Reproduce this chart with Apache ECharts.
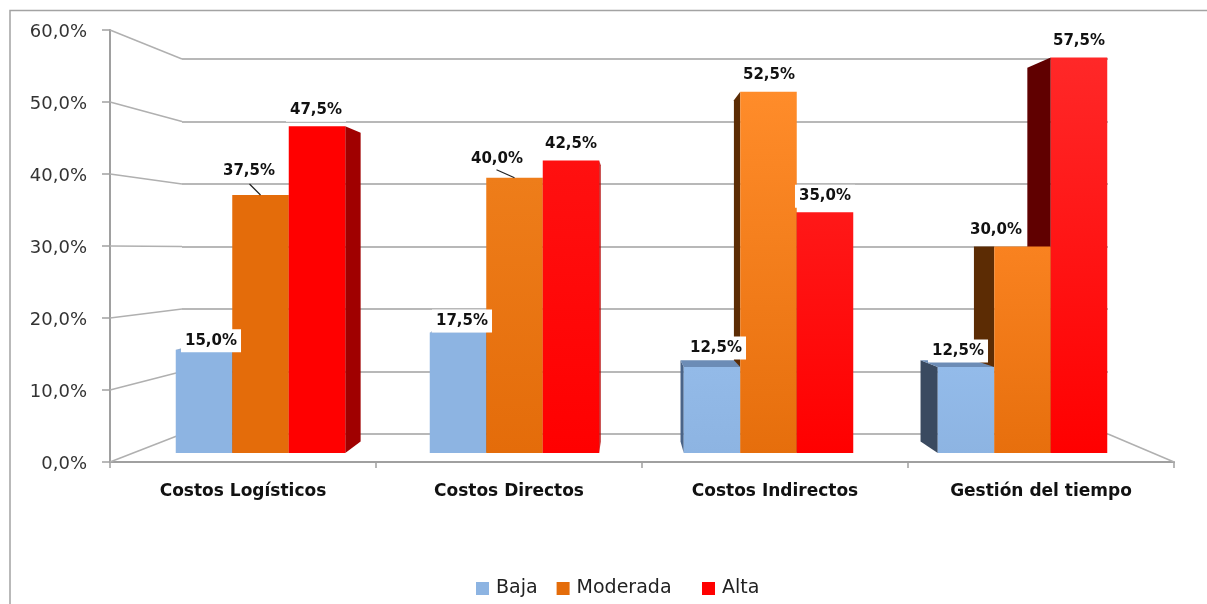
<!DOCTYPE html>
<html>
<head>
<meta charset="utf-8">
<script src="https://cdn.jsdelivr.net/npm/echarts@6/dist/echarts.min.js"></script>
<style>html,body{margin:0;padding:0;background:#fff}#c{width:1207px;height:604px}</style>
</head>
<body>
<div id="c"></div>
<script>
const categories = ['Costos Logísticos', 'Costos Directos', 'Costos Indirectos', 'Gestión del tiempo'];
const baja = [15.0, 17.5, 12.5, 12.5];
const moderada = [37.5, 40.0, 52.5, 30.0];
const alta = [47.5, 42.5, 35.0, 57.5];
const yTicks = [0, 10, 20, 30, 40, 50, 60];

// Styling and layout, kept apart from the values
const FONT = '"DejaVu Sans", sans-serif';
const BAR_W = 56.5;
const K = 0.055, VP = [625, 246];          // perspective of the bar depth
const GRID_FRONT = {left: 110, top: 30, width: 1064, height: 432};
const GRID_BACK = {left: 182, top: 59, width: 926, height: 375};
const GRID_BARS = {left: 133.5, top: 40.2, width: 1016, height: 412.8};
const AXIS = '#a0a0a0', WALL = '#b0b0b0', TICK_LEN = 8;

const seriesDefs = [
  {name: 'Baja', values: baja, legend: '#8DB4E2',
   tops: ['#8DB4E2', '#8DB4E2', '#93BAE8', '#93BBEA'], bottoms: ['#8DB4E2', '#8DB4E2', '#8DB4E2', '#8DB4E2'],
   sides: ['#3A4A60', '#3A4A60', '#4A6488', '#3A4A60'], lids: '#6C8CB6',
   offsets: [[7, 2.5], [4, 0], [4, -7.5], [-8, -4.5]]},
  {name: 'Moderada', values: moderada, legend: '#E46C0A',
   tops: ['#E46C0A', '#EE7D1A', '#FF8C2A', '#F98220'], bottoms: ['#E46C0A', '#E46C0A', '#E66E0C', '#E76F0D'],
   sides: ['#7A3A05', '#7A3A05', '#5C2C04', '#5C2C04'], lids: '#A85008',
   offsets: [[-11.5, -12.5], [-17.5, -7.5], [0.5, -5], [-26.5, -5]]},
  {name: 'Alta', values: alta, legend: '#FF0000',
   tops: ['#FF0000', '#FF1010', '#FF1818', '#FF2828'], bottoms: ['#FF0000', '#FF0000', '#FF0000', '#FF0000'],
   sides: ['#A00000', '#B00000', '#600000', '#600000'], lids: '#A00000',
   offsets: [[-1, -4.5], [0, -5], [0, -4.5], [0, -5]]}
];
const leaders = [
  {cat: 0, ser: 1, dx: -11, dy: -11},
  {cat: 1, ser: 1, dx: -18, dy: -8}
];
const pct = v => v.toFixed(1).replace('.', ',') + '%';

const chart = echarts.init(document.getElementById('c'));

function backOf(x, y) { return [x + K * (VP[0] - x), y + K * (VP[1] - y)]; }
function barEdges(api, cat, ser, v) {
  const p = api.coord([cat, v]), b = api.coord([cat, 0]);
  const left = p[0] + (ser - 1.5) * BAR_W;
  return {left: left, right: left + BAR_W, top: p[1], bot: b[1]};
}

// Depth faces: drawn back to front, behind the bars
const faceData = [];
[2, 1, 0].forEach(s => seriesDefs[s].values.forEach((v, c) => faceData.push([c, s, v])));

function renderFaces(params, api) {
  const c = api.value(0), s = api.value(1), v = api.value(2);
  const e = barEdges(api, c, s, v);
  const def = seriesDefs[s];
  const children = [];
  const poly = (pts, fill) => children.push({type: 'polygon', shape: {points: pts}, style: {fill: fill}, silent: true});
  const sideX = e.left > VP[0] ? e.left : (e.right < VP[0] ? e.right : null);
  if (sideX !== null) {
    poly([[sideX, e.top], backOf(sideX, e.top), backOf(sideX, e.bot), [sideX, e.bot]], def.sides[c]);
  }
  if (e.top > VP[1]) {
    poly([[e.left, e.top], [e.right, e.top], backOf(e.right, e.top), backOf(e.left, e.top)], def.lids);
  }
  return {type: 'group', children: children};
}

function renderWall(params, api) {
  const v = api.value(1);
  const y = api.coord([0, v])[1];
  const cs = params.coordSys;
  const by = chart.convertToPixel({yAxisIndex: 2}, v);
  const style = {stroke: WALL, lineWidth: 1.5, fill: 'none'};
  const tick = {stroke: AXIS, lineWidth: 1.5, fill: 'none'};
  const children = [
    {type: 'line', shape: {x1: cs.x, y1: y, x2: GRID_BACK.left, y2: by}, style: style, silent: true},
    {type: 'line', shape: {x1: cs.x - TICK_LEN, y1: y, x2: cs.x, y2: y}, style: tick, silent: true}
  ];
  if (v === 0) {
    children.push({type: 'line', shape: {x1: GRID_BACK.left + GRID_BACK.width, y1: by, x2: cs.x + cs.width, y2: y}, style: style, silent: true});
  }
  return {type: 'group', children: children};
}

function renderLeader(params, api) {
  const c = api.value(0), s = api.value(1), v = api.value(2);
  const e = barEdges(api, c, s, v);
  const cx = (e.left + e.right) / 2;
  const l = leaders[params.dataIndex];
  return {type: 'line', silent: true,
    shape: {x1: cx, y1: e.top, x2: cx + l.dx, y2: e.top + l.dy},
    style: {stroke: '#222', lineWidth: 1.2}};
}

const barSeries = seriesDefs.map(d => ({
  type: 'bar', name: d.name, xAxisIndex: 0, yAxisIndex: 0, z: 2,
  barWidth: BAR_W, barGap: 0,
  itemStyle: {color: d.legend},
  data: d.values.map((v, i) => ({
    value: v,
    itemStyle: {color: {type: 'linear', x: 0, y: 0, x2: 0, y2: 1,
      colorStops: [{offset: 0, color: d.tops[i]}, {offset: 1, color: d.bottoms[i]}]}},
    label: {offset: d.offsets[i]}
  })),
  label: {show: true, position: 'top', distance: 0,
    formatter: p => pct(p.value),
    fontFamily: FONT, fontSize: 15, fontWeight: 'bold', color: '#111',
    backgroundColor: '#fff', padding: [4, 4], lineHeight: 15}
}));

const legendBase = {
  top: 579, padding: 0, itemWidth: 13, itemHeight: 13, itemGap: 19,
  icon: 'rect', selectedMode: false,
  textStyle: {fontFamily: FONT, fontSize: 19, color: '#222', padding: [0, 0, 0, 2]}
};

chart.setOption({
  animation: false,
  backgroundColor: '#fff',
  graphic: [{type: 'rect', shape: {x: 10, y: 10.5, width: 1300, height: 700},
    style: {fill: 'none', stroke: '#a3a3a3', lineWidth: 1.5}, silent: true, z: -1}],
  legend: [
    Object.assign({}, legendBase, {left: 476, data: ['Baja', 'Moderada']}),
    Object.assign({}, legendBase, {left: 702, data: ['Alta']})
  ],
  grid: [GRID_BARS, GRID_FRONT, GRID_BACK],
  xAxis: [
    {type: 'category', gridIndex: 0, data: categories, show: false},
    {type: 'category', gridIndex: 1, data: categories,
     axisLine: {lineStyle: {color: AXIS, width: 2}},
     axisTick: {show: true, length: 6, alignWithLabel: false, lineStyle: {color: AXIS, width: 1.5}},
     axisLabel: {fontFamily: FONT, fontSize: 17, fontWeight: 'bold', color: '#111', margin: 21, interval: 0}},
    {type: 'category', gridIndex: 2, data: categories, show: false}
  ],
  yAxis: [
    {type: 'value', gridIndex: 0, min: 0, max: 60, interval: 10, show: false},
    {type: 'value', gridIndex: 1, min: 0, max: 60, interval: 10,
     axisLine: {show: true, lineStyle: {color: AXIS, width: 2}},
     axisTick: {show: false},
     splitLine: {show: false},
     axisLabel: {fontFamily: FONT, fontSize: 18, color: '#333', margin: 23, verticalAlign: 'top', lineHeight: 4, formatter: v => pct(v)}},
    {type: 'value', gridIndex: 2, min: 0, max: 60, interval: 10,
     axisLine: {show: false}, axisTick: {show: false}, axisLabel: {show: false},
     splitLine: {show: true, lineStyle: {color: '#b8b8b8', width: 1.8}}}
  ],
  series: [
    {type: 'custom', name: 'wall', xAxisIndex: 1, yAxisIndex: 1, z: 1, clip: false, silent: true,
     renderItem: renderWall, encode: {x: 0, y: 1}, data: yTicks.map(v => [0, v])},
    {type: 'custom', name: 'faces', xAxisIndex: 0, yAxisIndex: 0, z: 1.5, clip: false, silent: true,
     renderItem: renderFaces, encode: {x: 0, y: 2}, data: faceData},
    ...barSeries,
    {type: 'custom', name: 'leaders', xAxisIndex: 0, yAxisIndex: 0, z: 3, clip: false, silent: true,
     renderItem: renderLeader, encode: {x: 0, y: 2},
     data: leaders.map(l => [l.cat, l.ser, seriesDefs[l.ser].values[l.cat]])}
  ]
});
</script>
</body>
</html>
